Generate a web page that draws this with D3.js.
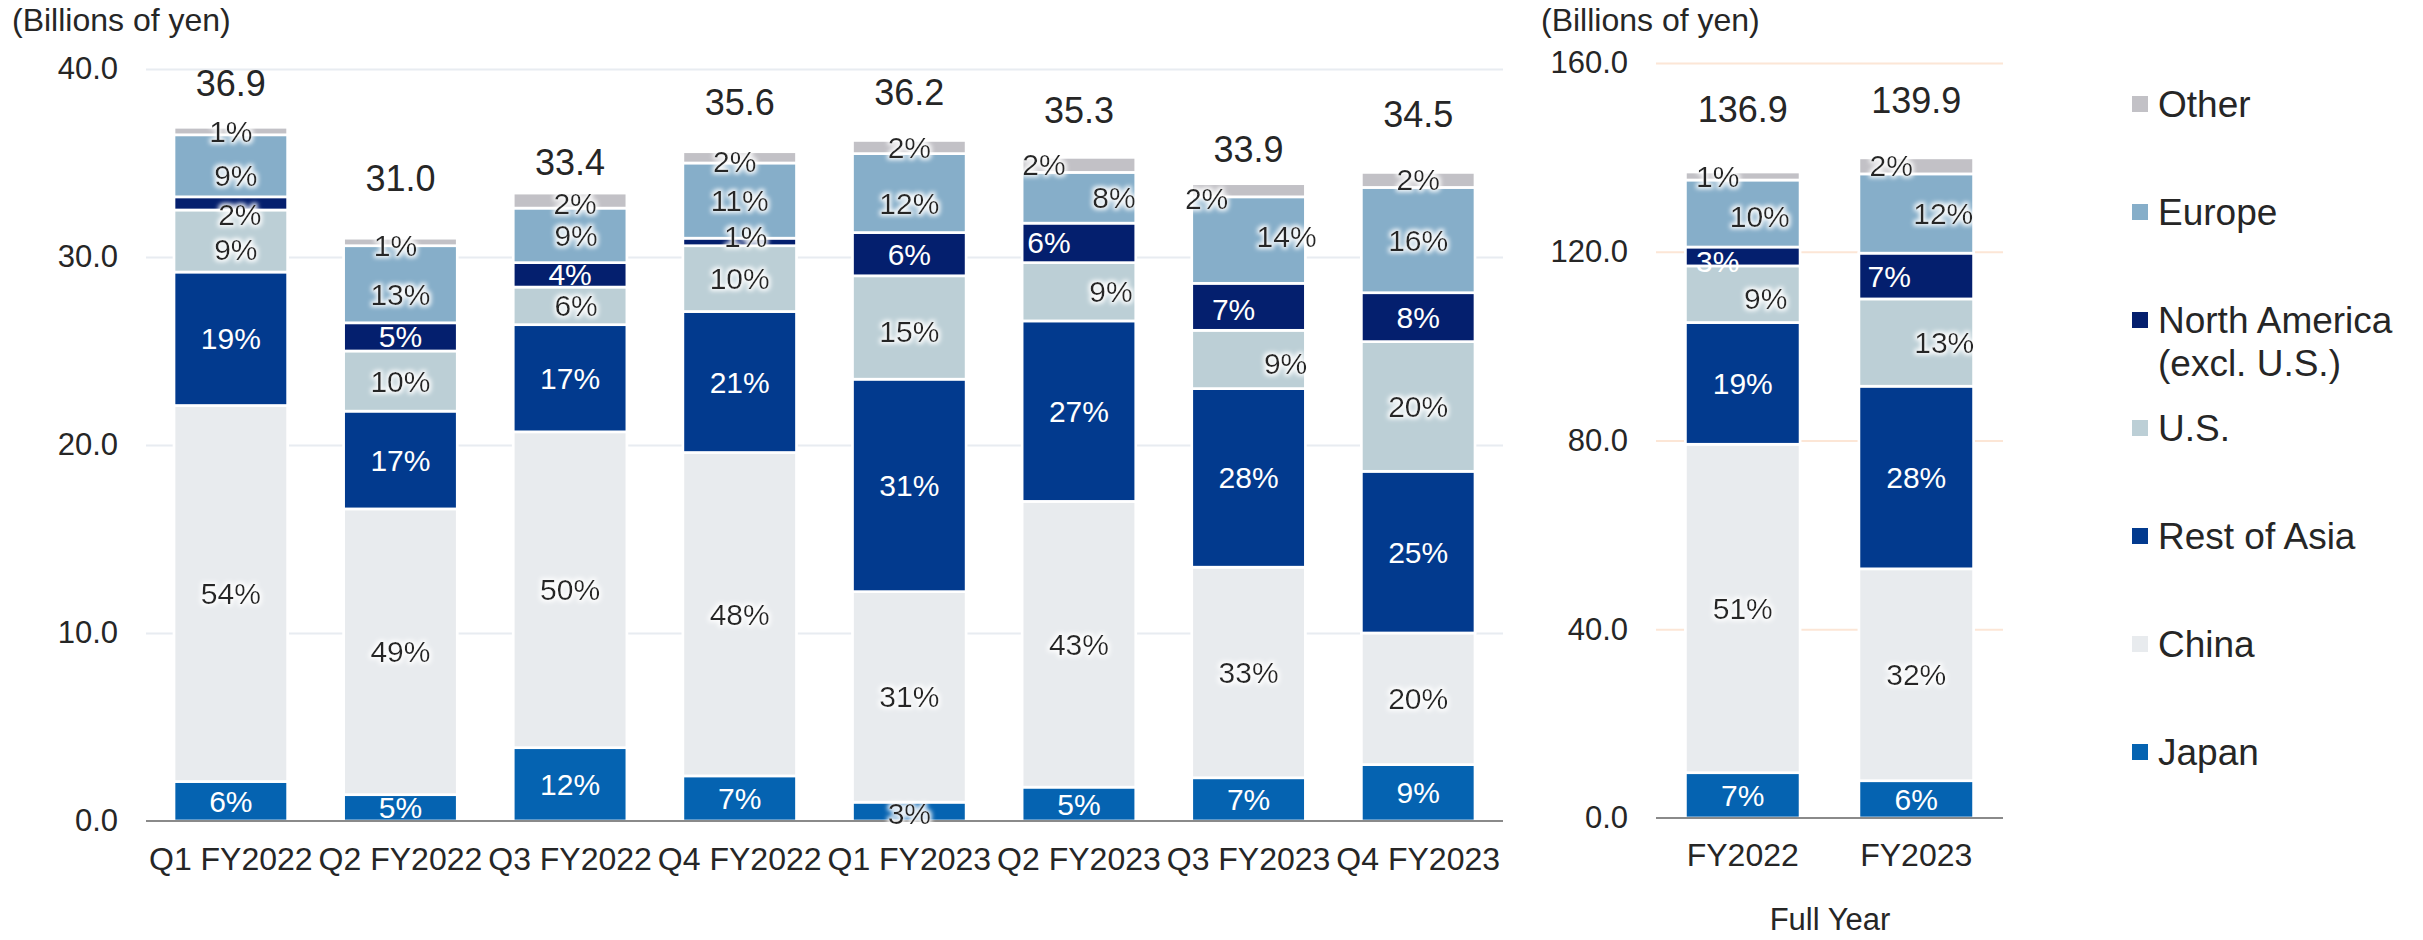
<!DOCTYPE html>
<html>
<head>
<meta charset="utf-8">
<script src="https://cdn.jsdelivr.net/npm/d3@7/dist/d3.min.js"></script>
<style>
  body { margin: 0; background: #fff; }
  svg { display: block; font-family: "Liberation Sans", Arial, sans-serif; }
</style>
</head>
<body>
<svg width="2423" height="940"></svg>
<script>
// categories
const quarters = ['Q1 FY2022', 'Q2 FY2022', 'Q3 FY2022', 'Q4 FY2022',
                  'Q1 FY2023', 'Q2 FY2023', 'Q3 FY2023', 'Q4 FY2023']
const years = ['FY2022', 'FY2023']
const regions = ['Japan', 'China', 'Rest of Asia', 'U.S.', 'North America', 'Europe', 'Other']

// quarterly sales by region (billions of yen)
const japanQ        = [2.1, 1.4, 3.9, 2.4, 1.0, 1.8, 2.3, 3.0]
const chinaQ        = [20.0, 15.2, 16.8, 17.2, 11.2, 15.2, 11.2, 7.0]
const restOfAsiaQ   = [7.1, 5.2, 5.7, 7.5, 11.3, 9.6, 9.5, 8.6]
const usQ           = [3.3, 3.2, 2.0, 3.5, 5.5, 3.1, 3.1, 6.9]
const northAmericaQ = [0.7, 1.5, 1.3, 0.4, 2.3, 2.1, 2.5, 2.6]
const europeQ       = [3.3, 4.1, 2.9, 4.0, 4.2, 2.7, 4.6, 5.6]
const otherQ        = [0.4, 0.4, 0.8, 0.6, 0.7, 0.8, 0.7, 0.8]

// full year sales by region (billions of yen)
const japanY        = [9.6, 7.9]
const chinaY        = [69.6, 44.9]
const restOfAsiaY   = [25.8, 38.7]
const usY           = [12.0, 18.5]
const northAmericaY = [4.0, 9.7]
const europeY       = [14.2, 16.8]
const otherY        = [1.7, 3.4]

// tick labels
const quarterTicks = [0, 10, 20, 30, 40]
const yearTicks = [0, 40, 80, 120, 160]

const svg = d3.select('svg')

const colors = ['#0563b1', '#e8ebee', '#023a8e', '#bccfd6', '#041f6e', '#86aec9', '#c2c1c6']
const color = d3.scaleOrdinal(regions, colors)
const whiteText = new Set(['Japan', 'Rest of Asia', 'North America'])
const ink = '#262626'

// hand placed labels in the original (dx, dy, dark text)
const nudge = {
  'Q1 FY2022|U.S.': [5, 8], 'Q1 FY2022|North America': [9, 11, true], 'Q1 FY2022|Europe': [5, 10],
  'Q2 FY2022|Europe': [0, 10], 'Q2 FY2022|Other': [-5, 4],
  'Q3 FY2022|U.S.': [6, 0], 'Q3 FY2022|Europe': [6, 0], 'Q3 FY2022|Other': [5, 3],
  'Q4 FY2022|North America': [6, -5, true], 'Q4 FY2022|Other': [-5, 4],
  'Q1 FY2023|Japan': [0, 2, true], 'Q1 FY2023|Europe': [0, 10], 'Q1 FY2023|U.S.': [0, 4],
  'Q2 FY2023|U.S.': [32, 0], 'Q2 FY2023|North America': [-30, 0], 'Q2 FY2023|Europe': [35, 0], 'Q2 FY2023|Other': [-35, 0],
  'Q3 FY2023|U.S.': [37, 4], 'Q3 FY2023|North America': [-15, 3], 'Q3 FY2023|Europe': [38, -4], 'Q3 FY2023|Other': [-42, 8],
  'FY2022|U.S.': [23, 4], 'FY2022|North America': [-25, 5], 'FY2022|Europe': [17, 3], 'FY2022|Other': [-25, 0],
  'FY2023|U.S.': [28, 0], 'FY2023|North America': [-27, 0], 'FY2023|Europe': [27, 0], 'FY2023|Other': [-25, 0]
}

const defs = svg.append('defs')
const glow = defs.append('filter').attr('id', 'glow')
  .attr('x', '-20%').attr('y', '-30%').attr('width', '140%').attr('height', '160%')
glow.append('feMorphology').attr('in', 'SourceAlpha').attr('operator', 'dilate').attr('radius', 1.5).attr('result', 'd')
glow.append('feGaussianBlur').attr('in', 'd').attr('stdDeviation', 2).attr('result', 'b')
glow.append('feFlood').attr('flood-color', '#fff').attr('flood-opacity', 0.9)
glow.append('feComposite').attr('in2', 'b').attr('operator', 'in').attr('result', 'g')
const merge = glow.append('feMerge')
merge.append('feMergeNode').attr('in', 'g')
merge.append('feMergeNode').attr('in', 'SourceGraphic')

function toRows(cats, cols) {
  return cats.map((c, i) => {
    const r = { cat: c }
    regions.forEach((k, j) => r[k] = cols[j][i])
    return r
  })
}

function panel(o) {
  const x = d3.scaleBand(o.rows.map(d => d.cat), [o.left, o.right])
    .paddingInner(o.pad).paddingOuter(o.pad / 2)
  const y = d3.scaleLinear([0, o.max], [o.bottom, o.top])
  const stack = d3.stack().keys(regions)(o.rows)
  const totals = o.rows.map(r => d3.sum(regions, k => r[k]))
  const g = svg.append('g')

  // gridlines + tick labels
  const yAxis = g.append('g')
    .attr('transform', `translate(${o.left},0)`)
    .call(d3.axisLeft(y).tickValues(o.ticks).tickFormat(d3.format('.1f'))
      .tickSize(-(o.right - o.left)).tickPadding(28))
  yAxis.select('.domain').remove()
  yAxis.selectAll('line').attr('stroke', o.grid).attr('stroke-width', 2)
    .filter(d => d === 0).remove()
  yAxis.selectAll('text').attr('fill', ink).style('font-size', '31px')

  // bars
  g.append('g').selectAll('g').data(stack).join('g')
    .attr('fill', d => color(d.key))
    .selectAll('rect').data(d => d).join('rect')
      .attr('x', d => x(d.data.cat))
      .attr('width', x.bandwidth())
      .attr('y', d => y(d[1]))
      .attr('height', d => y(d[0]) - y(d[1]))
      .attr('stroke', '#fff').attr('stroke-width', 2.7)

  // baseline axis
  const xAxis = g.append('g')
    .attr('transform', `translate(0,${o.bottom})`)
    .call(d3.axisBottom(x).tickSize(0).tickPadding(o.labelPad))
  xAxis.select('.domain').attr('stroke', '#8a8a8a').attr('stroke-width', 2)
    .attr('d', `M${o.left},0H${o.right}`)
  xAxis.selectAll('text').attr('fill', ink).style('font-size', '32px')

  // percentage labels
  const labels = []
  stack.forEach(s => s.forEach((d, i) => {
    const n = nudge[d.data.cat + '|' + s.key] || [0, 0, false]
    labels.push({
      x: x(d.data.cat) + x.bandwidth() / 2 + n[0],
      y: (y(d[0]) + y(d[1])) / 2 + n[1],
      text: Math.round((d[1] - d[0]) / totals[i] * 100) + '%',
      white: whiteText.has(s.key) && !n[2]
    })
  }))
  g.append('g').selectAll('text').data(labels).join('text')
    .attr('x', d => d.x).attr('y', d => d.y).attr('dy', '0.35em')
    .attr('text-anchor', 'middle')
    .style('font-size', '30px')
    .attr('fill', d => d.white ? '#fff' : ink)
    .attr('filter', d => d.white ? null : 'url(#glow)')
    .text(d => d.text)

  // totals
  g.append('g').selectAll('text').data(o.rows).join('text')
    .attr('x', d => x(d.cat) + x.bandwidth() / 2)
    .attr('y', (d, i) => y(totals[i]) - o.lift[i])
    .attr('text-anchor', 'middle')
    .style('font-size', '36px')
    .attr('fill', ink)
    .text((d, i) => d3.format('.1f')(totals[i]))

  svg.append('text')
    .attr('x', o.titleX).attr('y', 31)
    .style('font-size', '32px').attr('fill', ink)
    .text('(Billions of yen)')
}

panel({
  rows: toRows(quarters, [japanQ, chinaQ, restOfAsiaQ, usQ, northAmericaQ, europeQ, otherQ]),
  left: 146, right: 1503, top: 69, bottom: 821, max: 40, pad: 0.33,
  ticks: quarterTicks, grid: '#e8ecf1', labelPad: 26,
  lift: [31, 47, 18, 37, 35, 34, 22, 45], titleX: 12
})

panel({
  rows: toRows(years, [japanY, chinaY, restOfAsiaY, usY, northAmericaY, europeY, otherY]),
  left: 1656, right: 2003, top: 63, bottom: 818, max: 160, pad: 0.339,
  ticks: yearTicks, grid: '#fce6d6', labelPad: 25,
  lift: [50, 45], titleX: 1541
})

svg.append('text')
  .attr('x', 1830).attr('y', 930)
  .attr('text-anchor', 'middle')
  .style('font-size', '31px').attr('fill', ink)
  .text('Full Year')

// legend, top to bottom
const legendItems = regions.slice().reverse()
const legendName = { 'North America': ['North America', '(excl. U.S.)'] }
const legendY = d3.scalePoint(legendItems, [104, 752])
const legend = svg.append('g').selectAll('g').data(legendItems).join('g')
  .attr('transform', d => `translate(2132,${legendY(d)})`)
legend.append('rect')
  .attr('y', -8).attr('width', 16).attr('height', 16)
  .attr('fill', d => color(d))
legend.append('text')
  .attr('x', 26)
  .style('font-size', '37px').attr('fill', ink)
  .selectAll('tspan').data(d => legendName[d] || [d]).join('tspan')
    .attr('x', 26)
    .attr('y', (d, i) => i * 43)
    .attr('dy', '0.35em')
    .text(d => d)
</script>
</body>
</html>
